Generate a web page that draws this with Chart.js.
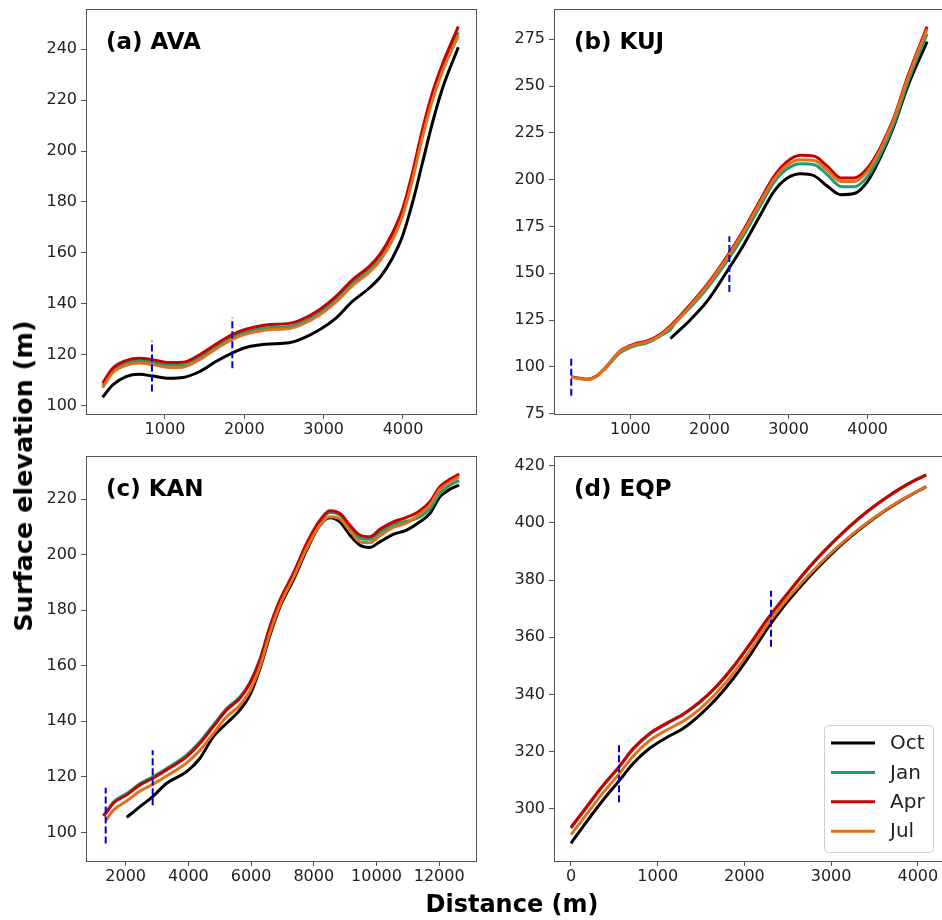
<!DOCTYPE html>
<html>
<head>
<meta charset="utf-8">
<title>Surface elevation profiles</title>
<script src="https://cdn.jsdelivr.net/npm/chart.js"></script>
<style>
  body {
    margin: 0;
    width: 942px;
    height: 920px;
    overflow: hidden;
    position: relative;
    background: #fff;
    font-family: "DejaVu Sans", sans-serif;
  }
  canvas { position: absolute; }
  .axis-label {
    position: absolute;
    font-weight: bold;
    color: #000;
    white-space: nowrap;
  }
  #ylabel { left: 23px; top: 476px; font-size: 25.5px; transform: translate(-50%, -50%) rotate(-90deg); }
  #xlabel { left: 512px; top: 904px; font-size: 24px; transform: translate(-50%, -50%); }
</style>
</head>
<body>
<canvas id="chartA"></canvas>
<canvas id="chartB"></canvas>
<canvas id="chartC"></canvas>
<canvas id="chartD"></canvas>
<div class="axis-label" id="ylabel">Surface elevation (m)</div>
<div class="axis-label" id="xlabel">Distance (m)</div>

<script>
const months = ["Oct", "Jan", "Apr", "Jul"];
const monthColors = ["#000000", "#1b9e77", "#c80000", "#e0701c"];

// (a) AVA
const distA = [215, 341, 510, 677, 845, 1055, 1223, 1433, 1642, 1839, 2020, 2271, 2565, 2691, 2943, 3152, 3362, 3572, 3719, 3866, 3992, 4118, 4244, 4370, 4496, 4697];
const octA = [103.3, 108.1, 111.4, 112.3, 111.6, 110.7, 111.0, 113.3, 117.3, 120.5, 122.8, 124.1, 124.7, 125.8, 129.7, 134.3, 140.9, 146.1, 150.7, 157.9, 166.4, 179.5, 195.2, 211.0, 224.5, 240.8];
const janA = [107.8, 113.6, 116.6, 117.5, 116.9, 115.8, 115.9, 118.8, 123.0, 126.7, 128.9, 130.5, 131.1, 132.2, 136.3, 141.5, 148.0, 153.3, 158.3, 166.0, 175.3, 189.6, 206.6, 221.0, 232.5, 246.6];
const aprA = [108.8, 114.7, 117.7, 118.6, 118.0, 116.9, 117.0, 119.9, 124.1, 127.8, 130.0, 131.7, 132.3, 133.4, 137.6, 142.8, 149.4, 154.6, 159.8, 167.7, 176.9, 191.3, 208.3, 222.8, 234.0, 248.9];
const julA = [107.0, 112.9, 115.8, 116.7, 116.1, 115.0, 115.1, 118.0, 122.2, 125.9, 128.1, 129.7, 130.3, 131.4, 135.5, 140.6, 147.1, 152.3, 157.3, 165.0, 174.3, 188.5, 205.3, 219.8, 231.3, 245.2];
const markA = [836, 1849];
const markLowA = [105.5, 114.7];
const markHighA = [125.5, 134.5];
const xTicksA = [1000, 2000, 3000, 4000];
const yTicksA = [100, 120, 140, 160, 180, 200, 220, 240];

// (b) KUJ
const distB = [252, 451, 578, 663, 704, 873, 1042, 1211, 1380, 1507, 1549, 1760, 1971, 2225, 2436, 2647, 2816, 2985, 3154, 3323, 3492, 3661, 3830, 3999, 4168, 4337, 4506, 4751];
const octB = [null, null, null, null, null, null, null, null, null, 115.1, 116.8, 125.2, 135.1, 151.2, 165.4, 181.4, 193.8, 200.9, 203.2, 202.1, 196.5, 192.0, 192.6, 199.1, 212.5, 229.3, 249.8, 273.8];
const janB = [null, null, null, 98.0, 100.0, 107.5, 111.0, 112.8, 116.5, 120.0, 122.5, 131.8, 142.0, 156.6, 170.6, 186.4, 198.6, 205.8, 208.5, 208.0, 202.6, 196.4, 196.2, 201.8, 214.0, 230.5, 251.8, 278.0];
const aprB = [94.7, 93.4, 95.2, 98.6, 100.5, 108.5, 112.1, 113.8, 117.4, 121.9, 123.6, 133.4, 144.0, 159.2, 173.4, 189.4, 201.8, 209.8, 213.0, 212.5, 207.1, 200.9, 200.9, 206.2, 217.8, 233.8, 255.1, 281.8];
const julB = [94.5, 93.2, 95.0, 98.4, 100.3, 108.2, 111.7, 113.3, 116.9, 121.3, 123.0, 132.7, 143.3, 158.4, 172.4, 188.2, 200.2, 207.8, 210.6, 210.2, 205.0, 199.0, 199.0, 204.6, 216.6, 233.0, 254.0, 280.5];
const markB = [253, 2252];
const markLowB = [84.5, 140.0];
const markHighB = [104.4, 169.8];
const xTicksB = [1000, 2000, 3000, 4000];
const yTicksB = [75, 100, 125, 150, 175, 200, 225, 250, 275];

// (c) KAN
const distC = [1288, 1374, 1607, 2032, 2457, 2863, 3307, 3945, 4370, 4795, 5220, 5645, 5964, 6283, 6602, 6920, 7346, 7771, 8196, 8515, 8834, 9152, 9471, 9790, 10108, 10534, 10959, 11384, 11703, 12021, 12340, 12637];
const octC = [null, null, null, 105.4, 109.3, 112.9, 117.7, 121.9, 126.7, 134.5, 139.3, 144.1, 149.5, 159.0, 171.0, 181.2, 190.8, 201.6, 210.6, 213.3, 211.8, 207.0, 203.4, 202.6, 204.6, 207.3, 208.8, 211.8, 214.8, 220.8, 223.5, 225.0];
const janC = [106.2, 107.3, 110.9, 114.0, 117.6, 120.0, 123.0, 127.9, 132.7, 138.7, 144.6, 148.8, 154.0, 162.3, 174.0, 183.5, 193.0, 203.6, 211.9, 215.2, 214.2, 209.8, 205.9, 205.5, 208.0, 210.8, 212.0, 213.6, 216.4, 222.0, 225.0, 226.6];
const aprC = [105.9, 107.0, 110.5, 113.5, 117.1, 119.5, 122.5, 127.3, 132.1, 138.1, 144.1, 148.3, 153.7, 162.1, 174.0, 183.6, 193.2, 204.0, 212.4, 215.8, 214.8, 210.6, 207.0, 206.4, 209.1, 211.8, 213.4, 215.8, 219.0, 224.4, 227.1, 229.0];
const julC = [null, 104.4, 108.0, 111.3, 114.9, 117.3, 120.3, 125.0, 129.6, 135.6, 141.6, 145.8, 151.0, 159.6, 171.8, 181.8, 191.6, 202.2, 210.6, 213.6, 212.8, 208.6, 204.6, 204.3, 206.8, 209.8, 211.4, 214.6, 217.8, 223.4, 226.0, 228.0];
const markC = [1362, 2861];
const markLowC = [96.0, 109.8];
const markHighC = [116.1, 129.6];
const xTicksC = [2000, 4000, 6000, 8000, 10000, 12000];
const yTicksC = [100, 120, 140, 160, 180, 200, 220];

// (d) EQP
const distD = [0, 181, 373, 554, 719, 912, 1104, 1296, 1488, 1681, 1873, 2065, 2258, 2450, 2642, 2835, 3027, 3219, 3412, 3604, 3796, 3988, 4096];
const octD = [288.0, 295.6, 303.2, 309.8, 316.0, 321.3, 325.0, 328.2, 332.9, 338.7, 345.7, 353.8, 362.8, 370.7, 377.6, 384.0, 389.8, 395.0, 399.7, 403.9, 407.6, 410.9, 412.7];
const janD = [293.2, 300.5, 308.1, 314.5, 320.9, 326.2, 329.8, 333.0, 337.3, 342.8, 349.6, 357.5, 365.9, 373.4, 380.6, 387.3, 393.3, 398.8, 403.8, 408.1, 412.0, 415.3, 416.9];
const aprD = [293.6, 300.8, 308.4, 314.8, 321.2, 326.5, 330.0, 333.2, 337.5, 343.0, 349.8, 357.7, 366.1, 373.6, 380.8, 387.5, 393.5, 399.0, 403.9, 408.2, 412.0, 415.2, 416.7];
const julD = [291.0, 298.2, 305.8, 312.2, 318.6, 324.0, 327.6, 330.7, 335.0, 340.7, 347.5, 355.4, 364.2, 371.8, 378.5, 384.6, 390.3, 395.4, 400.0, 404.1, 407.8, 411.0, 412.6];
const markD = [554, 2307];
const markLowD = [302.3, 356.7];
const markHighD = [322.4, 376.3];
const xTicksD = [0, 1000, 2000, 3000, 4000];
const yTicksD = [300, 320, 340, 360, 380, 400, 420];

// canvas geometry around each plot area
const YW = 70, XH = 32, PT = 16, PR = 8, PW = 390, PH = 405;

const panels = [
  { id: "chartA", title: "(a) AVA", left: 86, top: 9, dist: distA, series: [octA, janA, aprA, julA],
    marks: markA, markLow: markLowA, markHigh: markHighA,
    x: [5, 4920], y: [96.7, 255.8], xTicks: xTicksA, yTicks: yTicksA },
  { id: "chartB", title: "(b) KUJ", left: 554, top: 9, dist: distB, series: [octB, janB, aprB, julB],
    marks: markB, markLow: markLowB, markHigh: markHighB,
    x: [35, 4965], y: [74.8, 291.2], xTicks: xTicksB, yTicks: yTicksB },
  { id: "chartC", title: "(c) KAN", left: 86, top: 456, dist: distC, series: [octC, janC, aprC, julC],
    marks: markC, markLow: markLowC, markHigh: markHighC,
    x: [734, 13174], y: [89.7, 235.5], xTicks: xTicksC, yTicks: yTicksC },
  { id: "chartD", title: "(d) EQP", left: 554, top: 456, dist: distD, series: [octD, janD, aprD, julD],
    marks: markD, markLow: markLowD, markHigh: markHighD,
    x: [-196, 4302], y: [281.8, 423.4], xTicks: xTicksD, yTicks: yTicksD, legend: true }
];

const framePlugin = {
  id: "frame",
  afterDatasetsDraw(chart, args, opts) {
    const { ctx, chartArea: a } = chart;
    ctx.save();
    ctx.strokeStyle = "#555";
    ctx.lineWidth = 1;
    ctx.strokeRect(Math.round(a.left) + 0.5, Math.round(a.top) + 0.5, Math.round(a.width), Math.round(a.height));
    ctx.font = "bold 23px 'DejaVu Sans'";
    ctx.fillStyle = "#000";
    ctx.textBaseline = "alphabetic";
    ctx.fillText(opts.title, a.left + 20, a.top + 40);
    ctx.restore();
  }
};

const boxLegend = {
  id: "boxLegend",
  afterDraw(chart, args, opts) {
    if (!opts.show) return;
    const { ctx, chartArea: a } = chart;
    const w = 109, h = 127;
    const bx = a.left + 270, by = a.bottom - 9 - h;
    ctx.save();
    ctx.beginPath();
    ctx.roundRect(bx + 0.5, by + 0.5, w, h, 4);
    ctx.fillStyle = "rgba(255,255,255,0.8)";
    ctx.fill();
    ctx.strokeStyle = "#d0d0d0";
    ctx.lineWidth = 1;
    ctx.stroke();
    ctx.font = "20px 'DejaVu Sans'";
    ctx.textBaseline = "middle";
    months.forEach((m, i) => {
      const yy = by + 18 + i * 29.4;
      ctx.strokeStyle = monthColors[i];
      ctx.lineWidth = 3;
      ctx.beginPath();
      ctx.moveTo(bx + 7, yy);
      ctx.lineTo(bx + 51, yy);
      ctx.stroke();
      ctx.fillStyle = "#222";
      ctx.fillText(m, bx + 66, yy + 1);
    });
    ctx.restore();
  }
};

function makePanel(p) {
  const canvas = document.getElementById(p.id);
  canvas.width = YW + PW + PR;
  canvas.height = PT + PH + XH;
  canvas.style.left = (p.left - YW) + "px";
  canvas.style.top = (p.top - PT) + "px";

  const datasets = [];
  p.marks.forEach((mx, i) => {
    datasets.push({
      data: [{ x: mx, y: p.markLow[i] }, { x: mx, y: p.markHigh[i] }],
      borderColor: "#0000cc", borderWidth: 2, borderDash: [7, 3], pointRadius: 0
    });
  });
  // first dataset is drawn on top, so push later months first
  for (let k = months.length - 1; k >= 0; k--) {
    datasets.push({
      label: months[k],
      data: p.dist.map((d, i) => ({ x: d, y: p.series[k][i] })),
      borderColor: monthColors[k],
      borderWidth: 3,
      pointRadius: 0,
      cubicInterpolationMode: "monotone"
    });
  }

  const tickFont = { family: "'DejaVu Sans'", size: 16 };
  new Chart(canvas, {
    type: "line",
    data: { datasets },
    plugins: [framePlugin, boxLegend],
    options: {
      responsive: false,
      animation: false,
      events: [],
      layout: { padding: { top: PT, right: PR, left: 0, bottom: 0 } },
      plugins: {
        legend: { display: false },
        tooltip: { enabled: false },
        frame: { title: p.title },
        boxLegend: { show: !!p.legend }
      },
      scales: {
        x: {
          type: "linear",
          min: p.x[0], max: p.x[1],
          afterBuildTicks: (s) => { s.ticks = p.xTicks.map((v) => ({ value: v })); },
          afterFit: (s) => { s.height = XH; },
          border: { display: false },
          grid: { drawOnChartArea: false, color: "#555", tickLength: 5 },
          ticks: {
            autoSkip: false, maxRotation: 0,
            font: tickFont, color: "#222", padding: 1,
            callback: (v) => String(v)
          }
        },
        y: {
          min: p.y[0], max: p.y[1],
          afterBuildTicks: (s) => { s.ticks = p.yTicks.map((v) => ({ value: v })); },
          afterFit: (s) => { s.width = YW; },
          border: { display: false },
          grid: { drawOnChartArea: false, color: "#555", tickLength: 5 },
          ticks: {
            autoSkip: false,
            font: tickFont, color: "#222", padding: 4,
            callback: (v) => String(v)
          }
        }
      }
    }
  });
}

panels.forEach(makePanel);
</script>
</body>
</html>
